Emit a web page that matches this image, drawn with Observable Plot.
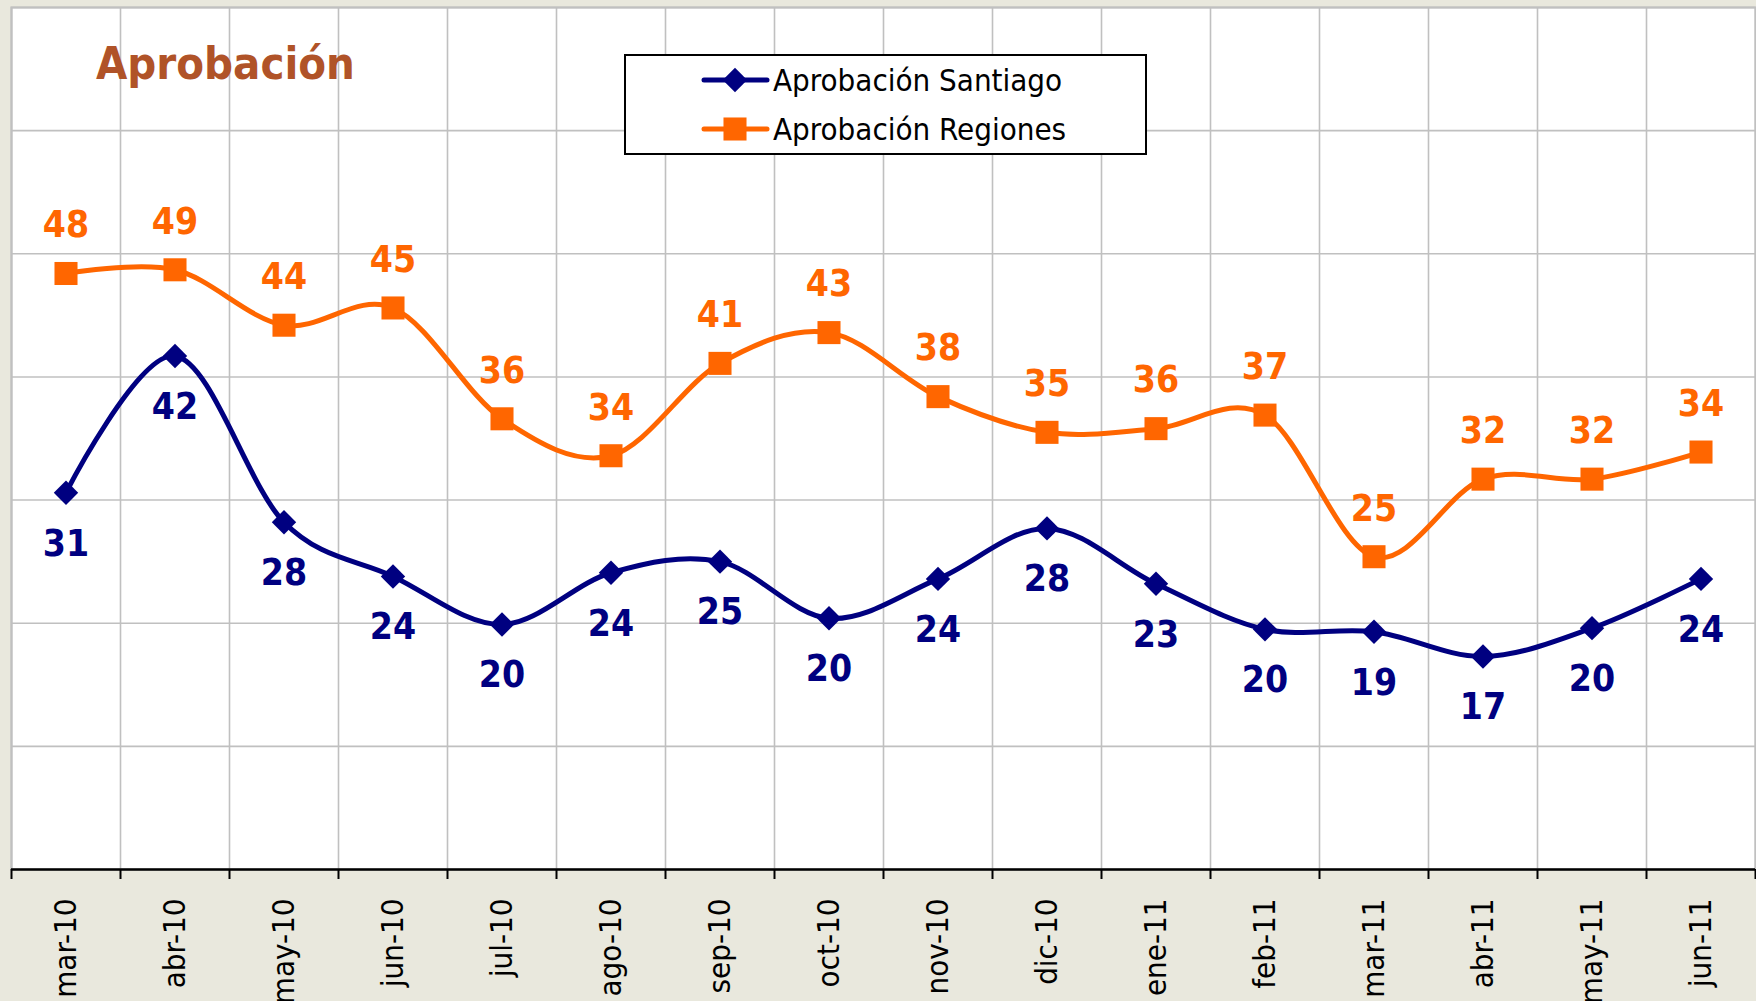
<!DOCTYPE html>
<html>
<head>
<meta charset="utf-8">
<script src="https://cdn.jsdelivr.net/npm/d3@7"></script>
<script src="https://cdn.jsdelivr.net/npm/@observablehq/plot@0.6"></script>
<style>
  html, body { margin: 0; padding: 0; background: #E9E8DD; }
  #wrap { position: relative; width: 1756px; height: 1001px; overflow: hidden; }
  #overlay { position: absolute; left: 0; top: 0; pointer-events: none; }
  .cf { font-family: "DejaVu Sans Condensed", "DejaVu Sans", sans-serif; font-stretch: condensed; }
</style>
</head>
<body>
<div id="wrap"></div>
<script>
const months = ["mar-10","abr-10","may-10","jun-10","jul-10","ago-10","sep-10","oct-10","nov-10","dic-10","ene-11","feb-11","mar-11","abr-11","may-11","jun-11"];
const santiago = [30.6, 41.7, 28.2, 23.8, 19.9, 24.1, 25.0, 20.4, 23.6, 27.7, 23.2, 19.5, 19.3, 17.3, 19.6, 23.6];
const santiagoLabels = [31, 42, 28, 24, 20, 24, 25, 20, 24, 28, 23, 20, 19, 17, 20, 24];
const regiones = [48.4, 48.7, 44.2, 45.6, 36.6, 33.6, 41.1, 43.6, 38.4, 35.5, 35.8, 36.9, 25.4, 31.7, 31.7, 33.9];
const regionesLabels = [48, 49, 44, 45, 36, 34, 41, 43, 38, 35, 36, 37, 25, 32, 32, 34];
const yTicks = [0, 10, 20, 30, 40, 50, 60, 70];
const seriesNames = ["Aprobación Santiago", "Aprobación Regiones"];
const titleText = "Aprobación";

const NAVY = "#000080", ORANGE = "#FF6600", GRID = "#C0C0C0";
const FONT = '"DejaVu Sans Condensed", "DejaVu Sans", sans-serif';

const idx = months.map((_, i) => i);
const bounds = d3.range(months.length + 1).map(i => i - 0.5);
const sData = idx.map(i => ({i, v: santiago[i], t: santiagoLabels[i]}));
const rData = idx.map(i => ({i, v: regiones[i], t: regionesLabels[i]}));

const chart = Plot.plot({
  width: 1756,
  height: 1001,
  marginLeft: 11,
  marginRight: 1,
  marginTop: 7,
  marginBottom: 132,
  style: {background: "transparent", fontFamily: FONT, fontStretch: "condensed", overflow: "visible"},
  x: {type: "linear", domain: [-0.5, months.length - 0.5], label: null},
  y: {domain: [0, 70], axis: null, label: null},
  marks: [
    Plot.frame({fill: "white", stroke: "none"}),
    Plot.ruleY(yTicks.slice(1), {stroke: GRID, strokeWidth: 1.6}),
    Plot.ruleX(bounds, {stroke: GRID, strokeWidth: 1.6}),
    Plot.frame({stroke: GRID, strokeWidth: 2.2}),
    Plot.ruleY([0], {stroke: "black", strokeWidth: 2.6}),
    Plot.axisX({ticks: bounds, tickSize: 10, stroke: "black", strokeWidth: 2, tickFormat: () => "", label: null}),
    Plot.axisX({ticks: idx, tickSize: 0, tickRotate: -90, tickPadding: 29, tickFormat: i => months[i], fontSize: 31, fill: "black", label: null}),
    Plot.line(rData, {x: "i", y: "v", stroke: ORANGE, strokeWidth: 5, curve: "cardinal"}),
    Plot.line(sData, {x: "i", y: "v", stroke: NAVY, strokeWidth: 5, curve: "cardinal"}),
    Plot.dot(rData, {x: "i", y: "v", symbol: "square", r: 13, fill: ORANGE, stroke: "none"}),
    Plot.dot(sData, {x: "i", y: "v", symbol: "diamond2", r: 11, fill: NAVY, stroke: "none"}),
    Plot.text(rData, {x: "i", y: "v", text: "t", dy: -48, fontSize: 37, fontWeight: "bold", fill: ORANGE}),
    Plot.text(sData, {x: "i", y: "v", text: "t", dy: 51, fontSize: 37, fontWeight: "bold", fill: NAVY})
  ]
});
const wrap = document.getElementById("wrap");
wrap.appendChild(chart);

// Overlay: title and legend
const ov = d3.select(wrap).append("svg").attr("id", "overlay").attr("width", 1756).attr("height", 1001);
ov.append("text").attr("class", "cf").attr("x", 96).attr("y", 79)
  .attr("font-size", 45).attr("font-weight", "bold").attr("fill", "#B05328").text(titleText);

const lg = ov.append("g").attr("transform", "translate(624,54)");
lg.append("rect").attr("x", 1).attr("y", 1).attr("width", 521).attr("height", 99)
  .attr("fill", "white").attr("stroke", "black").attr("stroke-width", 2);
const rows = [
  {name: seriesNames[0], color: NAVY, sym: d3.symbolDiamond2, r: 11, cy: 26},
  {name: seriesNames[1], color: ORANGE, sym: d3.symbolSquare, r: 13, cy: 75}
];
for (const row of rows) {
  lg.append("line").attr("x1", 80).attr("x2", 143).attr("y1", row.cy).attr("y2", row.cy)
    .attr("stroke", row.color).attr("stroke-width", 5).attr("stroke-linecap", "round");
  lg.append("path").attr("d", d3.symbol(row.sym, Math.PI * row.r * row.r)())
    .attr("transform", `translate(111,${row.cy})`).attr("fill", row.color);
  lg.append("text").attr("class", "cf").attr("x", 149).attr("y", row.cy).attr("dy", "0.36em")
    .attr("font-size", 31).attr("fill", "black").text(row.name);
}
</script>
</body>
</html>
